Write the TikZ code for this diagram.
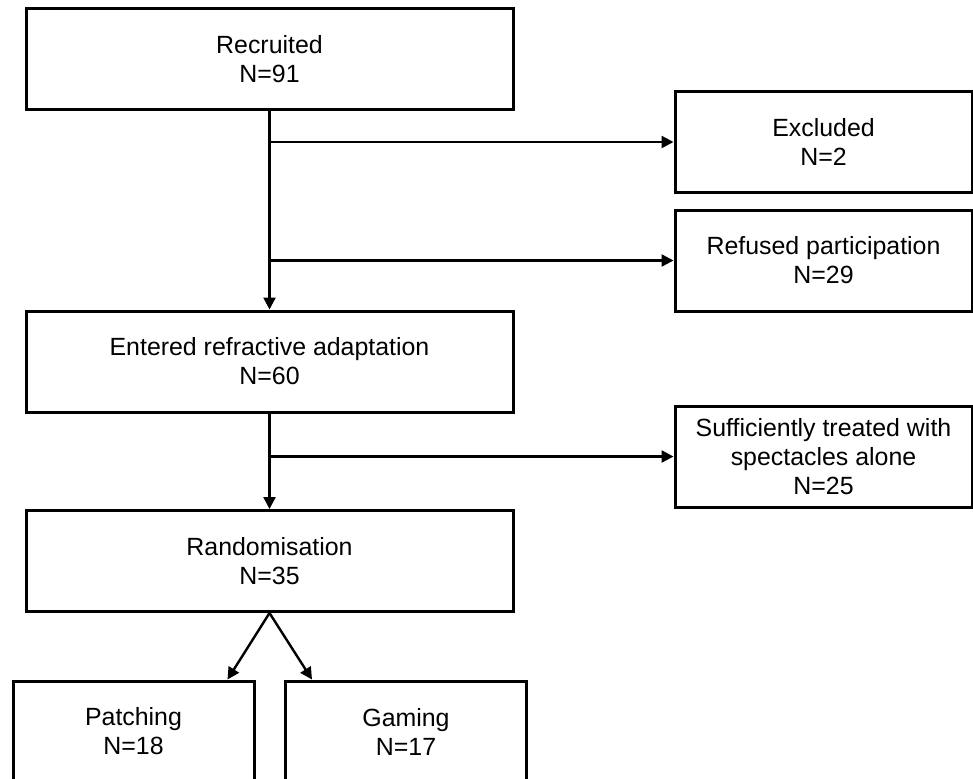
\documentclass[tikz,border=0pt]{standalone}
\usepackage{fontspec}
\setmainfont{Liberation Sans}
\usetikzlibrary{arrows.meta,positioning,calc}

\begin{document}
\begin{tikzpicture}[
    x=0.5pt, y=-0.5pt,
    box/.style={draw, line width=1.5pt, align=center, inner sep=0pt, font=\fontsize{12.45}{14.5}\selectfont},
    mainbox/.style={box, minimum width=243.5pt, minimum height=50.5pt},
    sidebox/.style={box, minimum width=148.5pt, minimum height=50.5pt},
    armbox/.style={box, minimum width=120.5pt, minimum height=50.5pt},
    flow/.style={line width=1.2pt, -{Triangle[length=6pt,width=6pt]}}
]

% Page frame (arms run past the lower edge)
\useasboundingbox (0,0) rectangle (973,778);
\clip (0,0) rectangle (973,778);

% Main stages
\node[mainbox] (recruited) at (269.5,59) {Recruited\\N=91};
\node[mainbox] (entered) at (269.5,361.5) {Entered refractive adaptation\\N=60};
\node[mainbox] (random) at (269.5,561) {Randomisation\\N=35};

% Drop-outs
\node[sidebox] (excluded) at (823.5,142) {Excluded\\N=2};
\node[sidebox] (refused) at (823.5,260.5) {Refused participation\\N=29};
\node[sidebox] (spectacles) at (823.5,456.5) {Sufficiently treated with\\spectacles alone\\N=25};

% Arms
\node[armbox] (patching) at (133.5,731.5) {Patching\\N=18};
\node[armbox] (gaming) at (406,731.5) {Gaming\\N=17};

% Flow
\draw[flow] (recruited) -- (entered);
\draw[flow] (recruited.south |- excluded.west) -- (excluded.west);
\draw[flow] (recruited.south |- refused.west) -- (refused.west);
\draw[flow] (entered) -- (random);
\draw[flow] (entered.south |- spectacles.west) -- (spectacles.west);
\draw[flow] (random.south) -- ([xshift=-14pt]patching.north east);
\draw[flow] (random.south) -- ([xshift=14pt]gaming.north west);

\end{tikzpicture}
\end{document}
